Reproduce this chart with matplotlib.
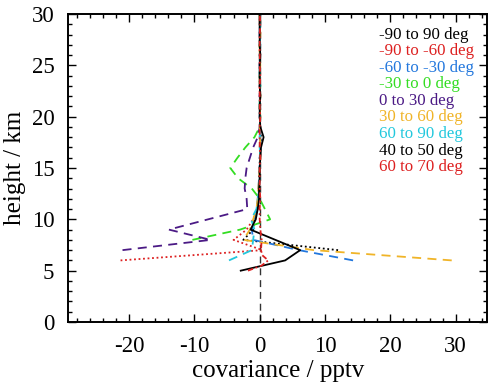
import matplotlib
matplotlib.use('Agg')
import matplotlib.pyplot as plt
import numpy as np
from matplotlib.ticker import MultipleLocator

# ---------------- data ----------------
labels = ["-90 to 90 deg", "-90 to -60 deg", "-60 to -30 deg", "-30 to 0 deg",
          "0 to 30 deg", "30 to 60 deg", "60 to 90 deg", "40 to 50 deg", "60 to 70 deg"]
colors = ["black", "#dd2020", "#2277dd", "#33dd22", "#4b1a85",
          "#f0b428", "#22c8dd", "black", "#dd2020"]

upper_h = list(range(19, 31))

h_all = [7, 8, 9, 10, 11, 12, 13, 14, 15, 16, 17, 18] + upper_h
v_all = [12.0, -2.5, -1.0, -0.8, -0.4, -0.2, -0.1, -0.1, 0.0, 0.0, 0.1, 0.2] + \
        [0.1, 0.0, 0.0, 0.1, 0.0, 0.0, 0.0, 0.1, 0.0, 0.0, 0.1, 0.0]

h_sp = [6, 7, 8, 9, 10, 11, 12, 13, 14, 15, 16, 17, 18] + upper_h
v_sp = [-21.3, 0.4, -4.0, -2.0, -1.0, -0.3, -0.2, -0.1, 0.0, 0.0, 0.1, 0.1, 0.0] + \
       [0.1, 0.0, 0.1, 0.0, 0.0, 0.1, 0.0, 0.0, 0.0, 0.1, 0.0, 0.0]

h_sm = [6, 7, 8, 9, 10, 11, 12, 13, 14, 15, 16, 17, 18] + upper_h
v_sm = [14.3, 6.0, -1.0, -1.2, -0.8, -0.5, -0.3, -0.2, -0.1, 0.0, 0.0, 0.1, 0.1] + \
       [0.0, 0.1, 0.0, 0.0, 0.1, 0.0, 0.0, 0.1, 0.0, 0.0, 0.0, 0.1]

h_st = [8, 9, 10, 11, 12, 13, 14, 15, 16, 17, 18] + upper_h
v_st = [-10.3, -3.0, 1.6, 0.8, 0.0, -1.2, -3.3, -4.5, -3.4, -2.2, -0.8] + \
        [0.0, 0.1, 0.0, 0.0, 0.1, 0.0, 0.1, 0.0, 0.0, 0.1, 0.0, 0.0]

h_nt = [7, 8, 9, 10, 11, 12, 13, 14, 15, 16, 17, 18] + upper_h
v_nt = [-21.0, -7.5, -13.9, -7.9, -1.9, -2.0, -2.3, -2.2, -2.0, -1.5, -1.0, -0.3] + \
       [0.0, 0.0, 0.1, 0.0, 0.0, 0.1, 0.0, 0.0, 0.1, 0.0, 0.0, 0.0]

h_nm = [6, 7, 8, 9, 10, 11, 12, 13, 14, 15, 16, 17, 18] + upper_h
v_nm = [29.4, 8.3, -2.5, -1.5, -1.0, -0.5, -0.3, -0.2, -0.1, 0.0, 0.1, 0.0, 0.1] + \
       [0.0, 0.1, 0.0, 0.1, 0.0, 0.0, 0.1, 0.0, 0.0, 0.1, 0.0, 0.0]

h_np = [6, 7, 8, 9, 10, 11, 12, 13, 14, 15, 16, 17, 18] + upper_h
v_np = [-4.7, -1.2, -1.0, -0.8, -1.3, -0.5, -0.2, -0.1, 0.0, 0.0, 0.1, 0.0, 0.0] + \
       [0.1, 0.0, 0.0, 0.0, 0.1, 0.0, 0.0, 0.0, 0.1, 0.0, 0.1, 0.0]

h_45 = [5, 6, 7, 8, 9, 10, 11, 12, 13, 14, 15, 16, 17, 18] + upper_h
v_45 = [-2.9, 3.9, 6.2, 2.4, -1.4, -0.6, -0.3, -0.1, -0.1, 0.0, 0.0, 0.1, 0.2, 0.6] + \
       [0.1, 0.0, 0.0, 0.1, 0.0, 0.0, 0.0, 0.1, 0.0, 0.0, 0.0, 0.0]

h_67 = [5, 5.5, 6, 6.5, 7, 8, 9, 10, 11, 12, 13, 14, 15, 16, 17, 18] + upper_h
v_67 = [-1.8, 0.3, 1.3, 0.4, 0.2, 0.3, 0.1, 0.0, 0.0, 0.1, 0.0, 0.0, 0.0, 0.1, 0.0, 0.0] + \
       [0.0, 0.1, 0.0, 0.0, 0.0, 0.1, 0.0, 0.0, 0.0, 0.0, 0.1, 0.0]

series_h = [h_all, h_sp, h_sm, h_st, h_nt, h_nm, h_np, h_45, h_67]
series_v = [v_all, v_sp, v_sm, v_st, v_nt, v_nm, v_np, v_45, v_67]

x_ticks = [-20, -10, 0, 10, 20, 30]
y_ticks = [0, 5, 10, 15, 20, 25, 30]

# ---------------- styles ----------------
styles = [
    dict(linestyle=(0, (1, 1.5)), lw=1.3),
    dict(linestyle=(0, (1, 1.5)), lw=1.3),
    dict(linestyle=(0, (5, 3.5)), lw=1.3),
    dict(linestyle=(0, (5, 3.5)), lw=1.3),
    dict(linestyle=(0, (5, 3.5)), lw=1.3),
    dict(linestyle=(0, (5, 3.5)), lw=1.3),
    dict(linestyle=(0, (5, 3.5)), lw=1.3),
    dict(linestyle='-', lw=1.3),
    dict(linestyle=(0, (3, 1.5, 1, 1.5)), lw=1.3),
]

plt.rcParams['font.family'] = ['Liberation Serif', 'DejaVu Serif']
plt.rcParams['axes.unicode_minus'] = False

fig = plt.figure(figsize=(5.0, 3.86), dpi=100)
ax = fig.add_axes([0.1366, 0.1658, 0.974 - 0.1366, 0.9637 - 0.1658])

ax.plot([0, 0], [0, 30], color='#333333', lw=1.0, linestyle=(0, (5, 3.5)), zorder=1)

for h, v, c, st in zip(series_h, series_v, colors, styles):
    ax.plot(v, h, color=c, zorder=2, **st)

ax.set_xlim(-29.3, 34.8)
ax.set_ylim(0, 30)
ax.set_xticks(x_ticks)
ax.set_yticks(y_ticks)
ax.xaxis.set_minor_locator(MultipleLocator(2))
ax.yaxis.set_minor_locator(MultipleLocator(1))
ax.tick_params(which='both', direction='in', top=True, right=True, width=1.0)
ax.tick_params(which='major', length=6, labelsize=16.5, pad=10)
ax.tick_params(which='minor', length=3)
for s in ax.spines.values():
    s.set_linewidth(1.4)

ax.set_xlabel('covariance / pptv', fontsize=18, labelpad=2)
ax.set_ylabel('height / km', fontsize=18, labelpad=4)

for i, (lab, c) in enumerate(zip(labels, colors)):
    ax.text(0.742, 0.932 - i * 0.0536, lab, color=c, fontsize=12.2,
            transform=ax.transAxes, ha='left', va='center')

fig.savefig('out.png', dpi=100)
